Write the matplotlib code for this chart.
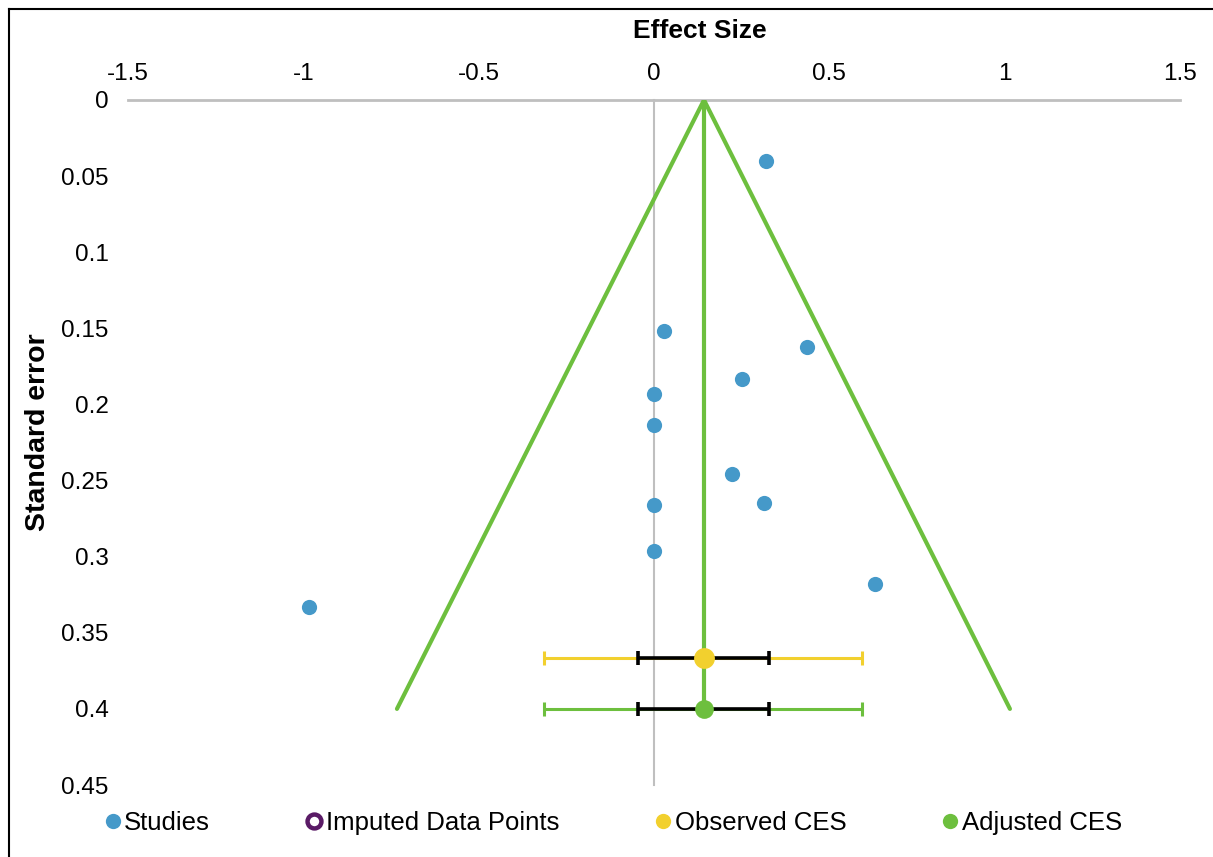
import matplotlib
matplotlib.use("Agg")
import matplotlib.pyplot as plt
from matplotlib.lines import Line2D

plt.rcParams['font.family'] = ['Liberation Sans', 'DejaVu Sans']

# Data
study_es = [0.319, 0.029, 0.436, 0.251, 0.0, 0.0, 0.222, 0.0, 0.314, 0.0, 0.630, -0.984]
study_se = [0.040, 0.152, 0.162, 0.183, 0.193, 0.2135, 0.246, 0.266, 0.265, 0.296, 0.318, 0.333]

ces = 0.1426
funnel_x = [-0.733, ces, 1.015]
funnel_y = [0.40, 0.0, 0.40]

obs_ces_se = 0.3666
adj_ces_se = 0.40
outer_ci = [-0.314, 0.593]
inner_ci = [-0.046, 0.328]

xticks = [-1.5, -1, -0.5, 0, 0.5, 1, 1.5]
xticklabels = ['-1.5', '-1', '-0.5', '0', '0.5', '1', '1.5']
yticks = [0, 0.05, 0.1, 0.15, 0.2, 0.25, 0.3, 0.35, 0.4, 0.45]
yticklabels = ['0', '0.05', '0.1', '0.15', '0.2', '0.25', '0.3', '0.35', '0.4', '0.45']

blue = '#4599C9'
green = '#6DBF3E'
yellow = '#F2D02E'
purple = '#5A1B66'
gray = '#BFBFBF'

fig = plt.figure(figsize=(12.13, 8.57), dpi=100)
ax = fig.add_axes([128/1213, 1-785/857, (1180-128)/1213, (785-100)/857])
ax.set_xlim(-1.5, 1.5)
ax.set_ylim(0.45, 0)
for s in ax.spines.values():
    s.set_visible(False)

# axis lines
ax.plot([-1.5, 1.5], [0, 0], color=gray, lw=2, zorder=1, clip_on=False)
ax.plot([0, 0], [0, 0.45], color=gray, lw=1.5, zorder=1, clip_on=False)

# funnel
ax.plot(funnel_x, funnel_y, color=green, lw=3, solid_capstyle='round', solid_joinstyle='miter', zorder=2)
ax.plot([ces, ces], [0, adj_ces_se], color=green, lw=3, zorder=2)

# studies
ax.scatter(study_es, study_se, s=120, color=blue, zorder=4, linewidths=0)

# CES error bars
for se, col in [(obs_ces_se, yellow), (adj_ces_se, green)]:
    ax.errorbar([ces], [se], xerr=[[ces - outer_ci[0]], [outer_ci[1] - ces]], fmt='none',
                ecolor=col, elinewidth=2.2, capsize=5, capthick=2.2, zorder=3)
    ax.errorbar([ces], [se], xerr=[[ces - inner_ci[0]], [inner_ci[1] - ces]], fmt='none',
                ecolor='black', elinewidth=2.6, capsize=5, capthick=2.6, zorder=3)
ax.plot([ces], [obs_ces_se], 'o', color=yellow, ms=15, mec='none', zorder=5)
ax.plot([ces], [adj_ces_se], 'o', color=green, ms=13.5, mec='none', zorder=5)

ax.xaxis.tick_top()
ax.set_xticks(xticks)
ax.set_xticklabels(xticklabels)
ax.set_yticks(yticks)
ax.set_yticklabels(yticklabels)
ax.tick_params(axis='both', length=0, labelsize=17.5, colors='black')
ax.tick_params(axis='x', pad=11)
ax.tick_params(axis='y', pad=14)

fig.text(700/1213, 1-31/857, 'Effect Size', ha='center', va='center', fontsize=19, fontweight='bold')
fig.text(38/1213, 1-432/857, 'Standard error', ha='center', va='center', rotation=90,
         fontsize=20.5, fontweight='bold')

# figure border (top and left)
fig.add_artist(Line2D([9/1213, 1], [1-9/857, 1-9/857], color='black', lw=1.5, transform=fig.transFigure))
fig.add_artist(Line2D([9/1213, 9/1213], [0, 1-9/857], color='black', lw=1.5, transform=fig.transFigure))

handles = [
    Line2D([], [], marker='o', ls='none', color=blue, mec='none', ms=11),
    Line2D([], [], marker='o', ls='none', mfc='white', mec=purple, mew=3.2, ms=10),
    Line2D([], [], marker='o', ls='none', color=yellow, mec='none', ms=11),
    Line2D([], [], marker='o', ls='none', color=green, mec='none', ms=11),
]
labels = ['Studies', 'Imputed Data Points', 'Observed CES', 'Adjusted CES']
fig.legend(handles, labels, loc='center left', bbox_to_anchor=(105/1213, 1-823/857), ncol=4,
           frameon=False, fontsize=18.5, handlelength=0.6, handletextpad=0.15,
           columnspacing=3.75, borderaxespad=0, borderpad=0)

fig.savefig('out.png', dpi=100)
